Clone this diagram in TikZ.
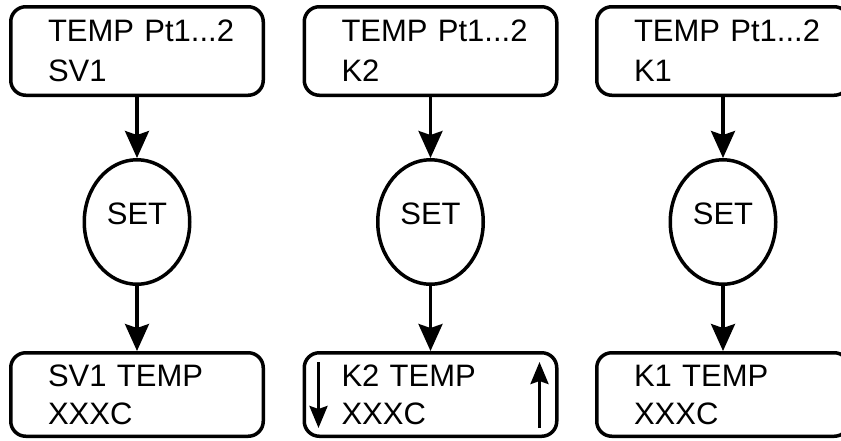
\documentclass[tikz,border=0pt]{standalone}
\usepackage{fontspec}
\setmainfont{Liberation Sans}
\usetikzlibrary{shapes.geometric,arrows.meta}
\begin{document}
\begin{tikzpicture}[x=1pt,y=-1pt,
        riquadro/.style={draw, line width=3.5pt, rounded corners=15pt, minimum width=252.5pt, inner sep=0pt, text width=178pt, align=left},
        alto/.style={riquadro, minimum height=88.5pt, font=\fontsize{31}{40}\selectfont},
        basso/.style={riquadro, minimum height=83.5pt, font=\fontsize{31}{38}\selectfont},
        tasto/.style={draw, ellipse, line width=3.5pt, inner sep=0pt, minimum width=105.5pt, minimum height=124.5pt, text depth=16pt, font=\fontsize{31}{36}\selectfont},
        freccia/.style={line width=3.2pt, -{Stealth[length=27pt,width=24pt,inset=4pt]}},
        frecciap/.style={line width=3.2pt, -{Stealth[length=22pt,width=18pt,inset=3pt]}}]
        \clip (0,0) rectangle (841,440);
        \useasboundingbox (0,0) rectangle (841,440);
        % Riquadri in alto
        \node [alto] (t1) at (137,51) {TEMP~Pt1...2\\SV1};
        \node [alto] (t2) at (430.5,51) {TEMP~Pt1...2\\K2};
        \node [alto] (t3) at (723,51) {TEMP~Pt1...2\\K1};
        % Tasti
        \node [tasto] (s1) at (137,222) {SET};
        \node [tasto] (s2) at (430.5,222) {SET};
        \node [tasto] (s3) at (723,222) {SET};
        % Riquadri in basso
        \node [basso] (b1) at (137,394.5) {SV1 TEMP\\XXXC};
        \node [basso] (b2) at (430.5,394.5) {K2 TEMP\\XXXC};
        \node [basso] (b3) at (723,394.5) {K1 TEMP\\XXXC};
        % Frecce
        \draw [freccia] (t1) -- (s1);
        \draw [freccia] (t2) -- (s2);
        \draw [freccia] (t3) -- (s3);
        \draw [freccia] (s1) -- (b1);
        \draw [freccia] (s2) -- (b2);
        \draw [freccia] (s3) -- (b3);
        % Frecce su/giu
        \draw [frecciap] ([xshift=16pt,yshift=-11pt]b2.north west) -- ([xshift=16pt,yshift=10pt]b2.south west);
        \draw [frecciap] ([xshift=-19pt,yshift=10pt]b2.south east) -- ([xshift=-19pt,yshift=-11pt]b2.north east);
\end{tikzpicture}
\end{document}
